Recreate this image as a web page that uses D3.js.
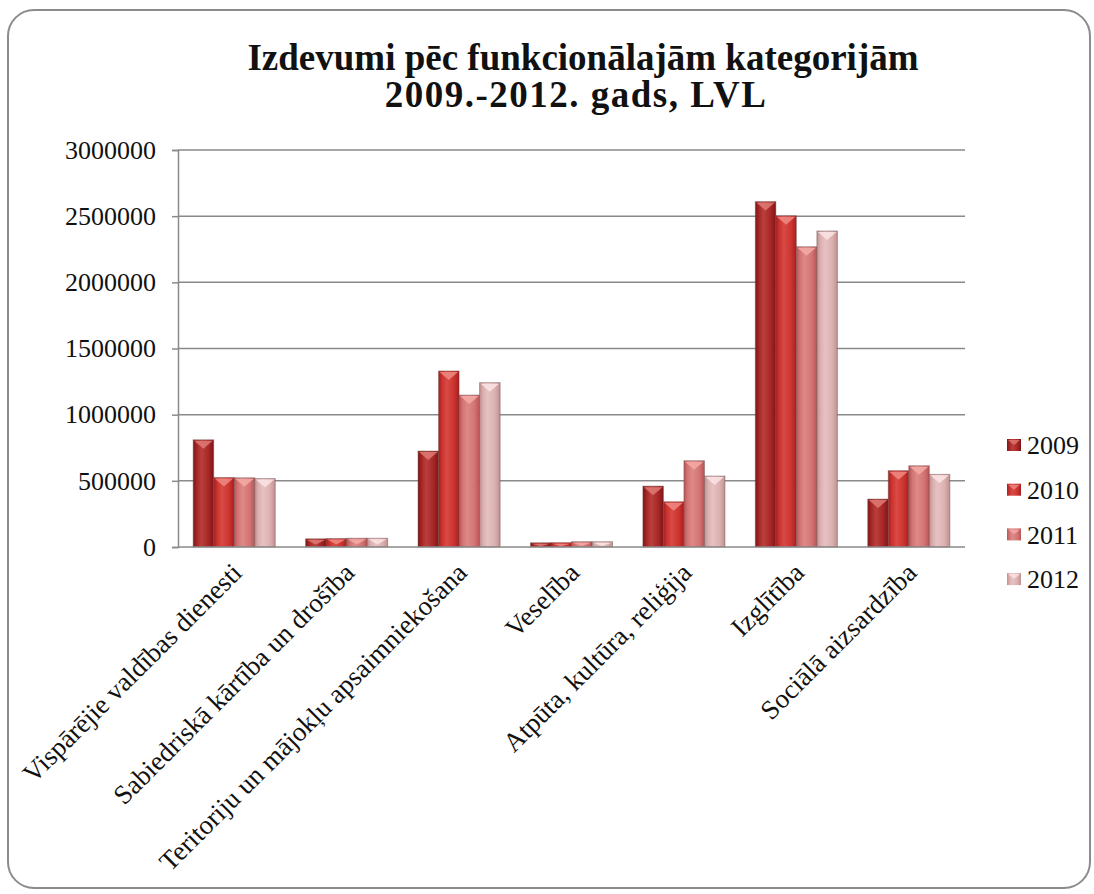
<!DOCTYPE html>
<html>
<head>
<meta charset="utf-8">
<script src="https://cdn.jsdelivr.net/npm/d3@7"></script>
<style>
  body { margin: 0; background: #fff; }
  svg { display: block; }
</style>
</head>
<body>
<div id="chart"></div>
<script>
// Data
const categories = [
    "Vispārējie valdības dienesti",
    "Sabiedriskā kārtība un drošība",
    "Teritoriju un mājokļu apsaimniekošana",
    "Veselība",
    "Atpūta, kultūra, reliģija",
    "Izglītība",
    "Sociālā aizsardzība"
];
const years = ["2009", "2010", "2011", "2012"];
const values2009 = [810000, 62000, 725000, 32000, 460000, 2610000, 362000];
const values2010 = [525000, 64000, 1330000, 33000, 342000, 2503000, 577000];
const values2011 = [523000, 66000, 1148000, 40000, 652000, 2269000, 614000];
const values2012 = [517000, 66000, 1242000, 40000, 536000, 2388000, 549000];
const yTicks = [0, 500000, 1000000, 1500000, 2000000, 2500000, 3000000];
const titleLines = ["Izdevumi pēc funkcionālajām kategorijām", "2009.-2012. gads, LVL"];

const seriesValues = [values2009, values2010, values2011, values2012];

const width = 1094, height = 894;
const plot = {left: 178, right: 965, top: 150, bottom: 547};
const FONT = "'Liberation Serif'";

// colour ramps per year: [edge, body, highlight, cap]
const palette = {
    "2009": ["#7c1616", "#a82626", "#b8403c", "#e07a74"],
    "2010": ["#a81e1e", "#cc3430", "#d84a44", "#f08a82"],
    "2011": ["#b85454", "#d47474", "#dc8a88", "#f4aaa6"],
    "2012": ["#c09090", "#dcb0b0", "#e6c2c2", "#fbe4e4"]
};

const svg = d3.select("#chart")
    .append("svg")
    .attr("width", width)
    .attr("height", height);

const defs = svg.append("defs");
years.forEach(y => {
    const c = palette[y];
    const g = defs.append("linearGradient")
        .attr("id", "grad" + y)
        .attr("x1", "0%").attr("x2", "100%")
        .attr("y1", "0%").attr("y2", "0%");
    g.append("stop").attr("offset", "0%").attr("stop-color", c[0]);
    g.append("stop").attr("offset", "18%").attr("stop-color", c[1]);
    g.append("stop").attr("offset", "40%").attr("stop-color", c[2]);
    g.append("stop").attr("offset", "75%").attr("stop-color", c[1]);
    g.append("stop").attr("offset", "100%").attr("stop-color", c[0]);
});

// outer rounded frame
svg.append("rect")
    .attr("x", 8).attr("y", 10)
    .attr("width", 1082).attr("height", 878)
    .attr("rx", 26).attr("ry", 26)
    .attr("fill", "#fff")
    .attr("stroke", "#8c8c8c")
    .attr("stroke-width", 2);

// Title
svg.append("g")
    .selectAll("text")
    .data(titleLines)
    .join("text")
    .attr("text-anchor", "middle")
    .attr("x", (d, i) => i === 0 ? 583 : 576)
    .attr("y", (d, i) => 70 + i * 37)
    .style("font-family", FONT)
    .style("font-weight", "bold")
    .style("font-size", "37px")
    .style("letter-spacing", (d, i) => i === 0 ? "0px" : "1.5px")
    .attr("fill", "#111")
    .text(d => d);

// Scales
const x = d3.scaleBand()
    .domain(categories)
    .range([plot.left, plot.right])
    .paddingInner(0.27)
    .paddingOuter(0.135);

const xSub = d3.scaleBand()
    .domain(years)
    .range([0, x.bandwidth()]);

const y = d3.scaleLinear()
    .domain([0, 3000000])
    .range([plot.bottom, plot.top]);

// gridlines
svg.append("g")
    .selectAll("line")
    .data(yTicks.filter(d => d > 0))
    .join("line")
    .attr("x1", plot.left).attr("x2", plot.right)
    .attr("y1", d => y(d)).attr("y2", d => y(d))
    .attr("stroke", "#8a8a8a")
    .attr("stroke-width", 1.5);

// Y axis
const yAxis = d3.axisLeft(y)
    .tickValues(yTicks)
    .tickSize(6)
    .tickPadding(16)
    .tickFormat(d3.format("d"));

const yAxisG = svg.append("g")
    .attr("transform", `translate(${plot.left},0)`)
    .call(yAxis)
    .attr("font-family", null);
yAxisG.select(".domain").attr("stroke", "#8a8a8a").attr("stroke-width", 1.5);
yAxisG.selectAll(".tick line").attr("stroke", "#8a8a8a").attr("stroke-width", 1.5);
yAxisG.selectAll(".tick text")
    .style("font-family", FONT)
    .style("font-size", "26px")
    .attr("fill", "#111");

// Bars
const groups = svg.append("g")
    .selectAll("g")
    .data(categories)
    .join("g")
    .attr("transform", d => `translate(${x(d)},0)`);

const bars = groups.selectAll("g.bar")
    .data((d, i) => years.map((yr, j) => ({year: yr, value: seriesValues[j][i]})))
    .join("g")
    .attr("class", "bar");

bars.append("rect")
    .attr("x", d => xSub(d.year))
    .attr("y", d => y(d.value))
    .attr("width", xSub.bandwidth())
    .attr("height", d => y(0) - y(d.value))
    .attr("fill", d => `url(#grad${d.year})`)
    .attr("stroke", "#6a4a4a")
    .attr("stroke-opacity", 0.45)
    .attr("stroke-width", 1);

// bevelled top highlight
bars.append("path")
    .attr("d", d => {
        const x0 = xSub(d.year) + 1, x1 = xSub(d.year) + xSub.bandwidth() - 1;
        const top = y(d.value) + 1;
        const h = Math.min(8, (y(0) - y(d.value)) * 0.6);
        return `M${x0},${top}L${x1},${top}L${(x0 + x1) / 2},${top + h}Z`;
    })
    .attr("fill", d => palette[d.year][3])
    .attr("opacity", 0.85);

// X axis
const xAxisG = svg.append("g")
    .attr("transform", `translate(0,${plot.bottom})`)
    .call(d3.axisBottom(x).tickSize(0).tickPadding(0))
    .attr("font-family", null);
xAxisG.select(".domain")
    .attr("d", `M${plot.left},0H${plot.right}`)
    .attr("stroke", "#8a8a8a").attr("stroke-width", 1.5);
xAxisG.selectAll(".tick text")
    .style("font-family", FONT)
    .style("font-size", "27px")
    .attr("fill", "#111")
    .attr("text-anchor", "end")
    .attr("transform", "translate(-4,14) rotate(-45)")
    .attr("dy", "0.7em")
    .attr("y", 0);

// Legend
const legend = svg.append("g")
    .attr("transform", "translate(1007,445)");
const legendItems = legend.selectAll("g")
    .data(years)
    .join("g")
    .attr("transform", (d, i) => `translate(0,${i * 44.7})`);
legendItems.append("rect")
    .attr("x", 0).attr("y", -6)
    .attr("width", 14).attr("height", 12)
    .attr("fill", d => `url(#grad${d})`);
legendItems.append("path")
    .attr("d", "M1,-5L13,-5L7,0Z")
    .attr("fill", d => palette[d][3])
    .attr("opacity", 0.8);
legendItems.append("text")
    .attr("x", 20)
    .attr("dy", "0.35em")
    .style("font-family", FONT)
    .style("font-size", "26px")
    .attr("fill", "#111")
    .text(d => d);
</script>
</body>
</html>
